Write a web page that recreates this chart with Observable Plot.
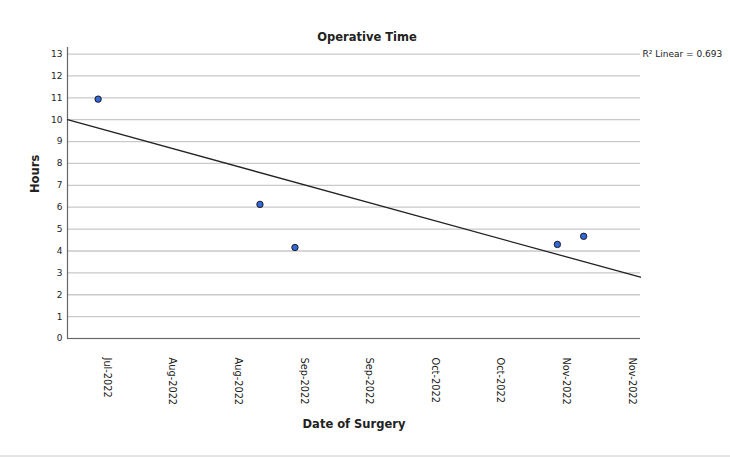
<!DOCTYPE html>
<html><head><meta charset="utf-8">
<script src="https://cdn.jsdelivr.net/npm/d3@7"></script>
<script src="https://cdn.jsdelivr.net/npm/@observablehq/plot@0.6"></script>
<style>
body{margin:0;background:#fff;}
#chart{width:730px;height:455px;border-bottom:2px solid #e4e4e4;}
#chart svg{display:block;}
</style></head><body><div id="chart"></div>
<script>
// Data
const surgeryDates = ["2022-07-18","2022-08-24","2022-09-01","2022-10-31","2022-11-06"];
const hours = [10.94, 6.13, 4.16, 4.30, 4.67];
const xDomain = ["2022-07-11","2022-11-19"];
const tickDates = ["2022-07-20","2022-08-04","2022-08-19","2022-09-03","2022-09-18","2022-10-03","2022-10-18","2022-11-02","2022-11-17"];
const yTicks = [0,1,2,3,4,5,6,7,8,9,10,11,12,13];
const fitHours = [10.0, 2.8]; // linear fit at the two ends of the x domain
const rSquared = 0.693;

const parse = d3.utcParse("%Y-%m-%d");
const points = surgeryDates.map((d, i) => ({date: parse(d), hours: hours[i]}));
const domain = xDomain.map(parse);
const fit = domain.map((d, i) => ({date: d, hours: fitHours[i]}));
const ticks = tickDates.map(parse);

const chart = Plot.plot({
  width: 730,
  height: 455,
  marginLeft: 67,
  marginRight: 90,
  marginTop: 47,
  marginBottom: 117,
  style: {fontFamily: "'DejaVu Sans', sans-serif", color: "#222", background: "#fff"},
  x: {type: "utc", domain: domain},
  y: {domain: [0, 13.3]},
  marks: [
    Plot.gridY(yTicks, {stroke: "#c9c9c9", strokeOpacity: 1, strokeWidth: 1.3}),
    Plot.axisY(yTicks, {tickSize: 0, tickPadding: 5, fontSize: 9, label: null}),
    Plot.axisX(ticks, {tickSize: 0, tickPadding: 19, tickRotate: 90, fontSize: 9.8,
      tickFormat: d3.utcFormat("%b-%Y"), label: null}),
    Plot.ruleY([0], {stroke: "#666", strokeWidth: 1.2}),
    Plot.ruleX([domain[0]], {stroke: "#666", strokeWidth: 1.2}),
    Plot.line(fit, {x: "date", y: "hours", stroke: "#222", strokeWidth: 1.3}),
    Plot.dot(points, {x: "date", y: "hours", r: 3.2, fill: "#3468d6", stroke: "#111", strokeWidth: 0.9}),
    Plot.text([rSquared], {x: () => domain[1], y: () => 13, text: d => `R² Linear = ${d}`,
      textAnchor: "start", dx: 2, fontSize: 9}),
    Plot.text(["Operative Time"], {frameAnchor: "top", lineAnchor: "middle", dy: -10, dx: 13, fontSize: 11.5, fontWeight: "bold"}),
    Plot.text(["Hours"], {frameAnchor: "left", dx: -32, rotate: -90, fontSize: 11.5, fontWeight: "bold"}),
    Plot.text(["Date of Surgery"], {frameAnchor: "bottom", lineAnchor: "middle", dy: 86, fontSize: 11.5, fontWeight: "bold"})
  ]
});
document.getElementById("chart").appendChild(chart);
</script></body></html>
